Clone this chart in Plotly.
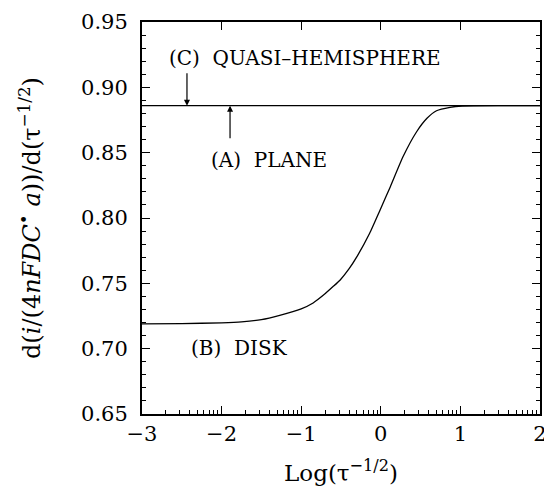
import numpy as np
import plotly.graph_objects as go

# Data
log_x = [-3.0, -2.5, -2.0, -1.75, -1.5, -1.27, -1.0, -0.85, -0.72, -0.6, -0.51, -0.40,
         -0.30, -0.14, -0.01, 0.12, 0.28, 0.45, 0.58, 0.70, 0.87, 1.02, 1.5, 2.0]
disk = [0.719, 0.7192, 0.7198, 0.7205, 0.7222, 0.7255, 0.7305, 0.735, 0.741, 0.7475, 0.7526, 0.761,
        0.7704, 0.7883, 0.806, 0.824, 0.847, 0.866, 0.8763, 0.8821, 0.8847, 0.8857, 0.886, 0.886]
plane_x = [-3.0, 2.0]
plane_y = [0.886, 0.886]

x_ticks = [-3, -2, -1, 0, 1, 2]
x_tick_text = ["\u22123", "\u22122", "\u22121", "0", "1", "2"]
y_ticks = [0.65, 0.70, 0.75, 0.80, 0.85, 0.90, 0.95]
y_tick_text = ["0.65", "0.70", "0.75", "0.80", "0.85", "0.90", "0.95"]

FONT = "DejaVu Serif"
minor_x = [d + np.log10(k) for d in range(-3, 2) for k in range(2, 10)]

fig = go.Figure()
fig.add_trace(go.Scatter(x=plane_x, y=plane_y, mode="lines",
                         line=dict(color="black", width=1.3), hoverinfo="skip"))
fig.add_trace(go.Scatter(x=log_x, y=disk, mode="lines", line_shape="spline",
                         line=dict(color="black", width=1.3, smoothing=0.5), hoverinfo="skip"))
# invisible trace to activate the top axis
fig.add_trace(go.Scatter(x=plane_x, y=plane_y, xaxis="x2", mode="lines",
                         line=dict(color="rgba(0,0,0,0)", width=0), hoverinfo="skip"))

fig.update_layout(
    width=544, height=487,
    margin=dict(l=142, r=4, t=22, b=73),
    paper_bgcolor="white", plot_bgcolor="white",
    showlegend=False,
    font=dict(family=FONT, size=20, color="black"),
    xaxis=dict(range=[-3, 2], tickmode="array", tickvals=x_ticks, ticktext=x_tick_text,
               ticks="inside", ticklen=8, tickwidth=1.2, tickcolor="black",
               showline=True, linecolor="black", linewidth=1.5, mirror=False,
               showgrid=False, zeroline=False, ticklabeloverflow="allow", automargin=False,
               minor=dict(tickmode="array", tickvals=minor_x, ticks="inside",
                          ticklen=4, tickwidth=1, tickcolor="black"),
               tickfont=dict(family=FONT, size=21),
               title=dict(text="Log(\u03c4<sup>\u22121/2</sup>)", font=dict(family=FONT, size=23),
                          standoff=20)),
    xaxis2=dict(range=[-3, 2], overlaying="x", side="top", tickmode="array",
                tickvals=[-2, -1, 0, 1], showticklabels=False, automargin=False,
                ticks="inside", ticklen=8, tickwidth=1.2, tickcolor="black",
                showline=True, linecolor="black", linewidth=1.5,
                showgrid=False, zeroline=False),
    yaxis=dict(range=[0.65, 0.95], tickmode="array", tickvals=y_ticks, ticktext=y_tick_text,
               ticks="inside", ticklen=8, tickwidth=1.2, tickcolor="black",
               showline=True, linecolor="black", linewidth=2, mirror="ticks",
               showgrid=False, zeroline=False, ticklabelstandoff=8, automargin=False,
               minor=dict(dtick=0.01, ticks="inside", ticklen=4, tickwidth=1, tickcolor="black"),
               tickfont=dict(family=FONT, size=21),
               title=dict(text="d(<i>i</i>/(4<i>nFDC</i><sup>\u2022</sup> <i>a</i>))/d(\u03c4<sup>\u22121/2</sup>)",
                          font=dict(family=FONT, size=24), standoff=34)),
)

annos = [
    dict(x=-0.95, y=0.9225, text="(C)  QUASI\u2013HEMISPHERE", showarrow=False),
    dict(x=-1.41, y=0.8444, text="(A)  PLANE", showarrow=False),
    dict(x=-1.78, y=0.7006, text="(B)  DISK", showarrow=False),
    dict(x=-2.435, y=0.886, text="", showarrow=True, ax=0, ay=-34,
         arrowhead=2, arrowsize=1, arrowwidth=1.2, arrowcolor="black"),
    dict(x=-1.894, y=0.886, text="", showarrow=True, ax=0, ay=34,
         arrowhead=2, arrowsize=1, arrowwidth=1.2, arrowcolor="black"),
]
for a in annos:
    a.update(xref="x", yref="y", font=dict(family=FONT, size=20, color="black"))
    fig.add_annotation(**a)

fig.write_html("out.html")
